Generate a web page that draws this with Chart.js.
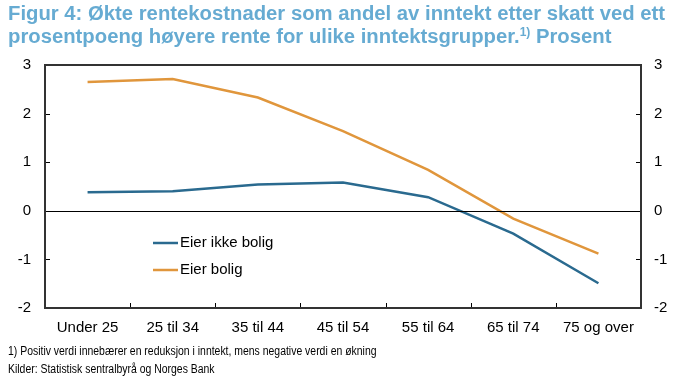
<!DOCTYPE html>
<html>
<head>
<meta charset="utf-8">
<script src="https://cdn.jsdelivr.net/npm/chart.js@4.4.1/dist/chart.umd.min.js"></script>
<style>
  html, body { margin: 0; padding: 0; background: #ffffff; }
  #wrap { position: relative; width: 687px; height: 383px; overflow: hidden; font-family: "Liberation Sans", Arial, sans-serif; }
  #title { position: absolute; left: 8px; top: 2px; color: #66abd2; font-weight: bold; font-size: 20.3px; line-height: 23px; white-space: nowrap; }
  #title sup { font-size: 12px; vertical-align: 0; position: relative; top: -7px; }
  .note { position: absolute; left: 8px; font-size: 12px; color: #000; white-space: nowrap; transform-origin: 0 0; transform: scaleX(0.87); }
  canvas { position: absolute; left: 0; top: 0; }
</style>
</head>
<body>
<div id="wrap">
  <canvas id="c" width="687" height="383"></canvas>
  <div id="title">Figur 4: Økte rentekostnader som andel av inntekt etter skatt ved ett<br>prosentpoeng høyere rente for ulike inntektsgrupper.<sup>1)</sup> Prosent</div>
  <div class="note" style="top:344px">1) Positiv verdi innebærer en reduksjon i inntekt, mens negative verdi en økning</div>
  <div class="note" style="top:362px">Kilder: Statistisk sentralbyrå og Norges Bank</div>
</div>
<script>
const categories = ["Under 25", "25 til 34", "35 til 44", "45 til 54", "55 til 64", "65 til 74", "75 og over"];
const eierIkkeBolig = [0.38, 0.40, 0.54, 0.58, 0.28, -0.47, -1.49];
const eierBolig = [2.65, 2.71, 2.33, 1.64, 0.84, -0.16, -0.88];
const seriesNames = ["Eier ikke bolig", "Eier bolig"];
const yMin = -2, yMax = 3, yStep = 1;

const BLUE = "#2a6a8f";
const ORANGE = "#e0963c";
const FONT = "'Liberation Sans', Arial, sans-serif";

const framePlugin = {
  id: "frame",
  afterDatasetsDraw(chart) {
    const ctx = chart.ctx;
    const a = chart.chartArea;
    const y = chart.scales.y;
    const x = chart.scales.x;
    ctx.save();
    ctx.strokeStyle = "#000";
    ctx.lineWidth = 1;
    const z = Math.round(y.getPixelForValue(0)) + 0.5;
    ctx.beginPath(); ctx.moveTo(a.left, z); ctx.lineTo(a.right, z); ctx.stroke();
    ctx.beginPath();
    for (let v = yMin + yStep; v < yMax; v += yStep) {
      const py = Math.round(y.getPixelForValue(v)) + 0.5;
      ctx.moveTo(a.left, py); ctx.lineTo(a.left + 5, py);
      ctx.moveTo(a.right, py); ctx.lineTo(a.right - 5, py);
    }
    for (let i = 1; i < categories.length; i++) {
      const px = Math.round((x.getPixelForValue(i - 1) + x.getPixelForValue(i)) / 2) + 0.5;
      ctx.moveTo(px, a.bottom); ctx.lineTo(px, a.bottom - 5);
    }
    ctx.stroke();
    ctx.lineWidth = 2;
    ctx.strokeStyle = "#333";
    ctx.strokeRect(a.left, a.top, a.right - a.left, a.bottom - a.top);
    const items = chart.data.datasets;
    ctx.font = "15px " + FONT;
    ctx.textBaseline = "middle";
    ctx.fillStyle = "#000";
    const lx = 153, ly0 = 243, gap = 27;
    items.forEach((ds, i) => {
      const ly = ly0 + i * gap;
      ctx.strokeStyle = ds.borderColor;
      ctx.lineWidth = 2.5;
      ctx.beginPath(); ctx.moveTo(lx, ly); ctx.lineTo(lx + 25, ly); ctx.stroke();
      ctx.fillText(ds.label, lx + 27, ly);
    });
    ctx.restore();
  }
};

new Chart(document.getElementById("c"), {
  type: "line",
  data: {
    labels: categories,
    datasets: [
      { label: seriesNames[0], data: eierIkkeBolig, borderColor: BLUE, borderWidth: 2.5, pointRadius: 0, tension: 0, fill: false },
      { label: seriesNames[1], data: eierBolig, borderColor: ORANGE, borderWidth: 2.5, pointRadius: 0, tension: 0, fill: false }
    ]
  },
  options: {
    responsive: false,
    animation: false,
    events: [],
    layout: { padding: { top: 65, left: 0, right: 0, bottom: 0 } },
    plugins: { legend: { display: false }, tooltip: { enabled: false }, title: { display: false } },
    scales: {
      x: {
        offset: true,
        grid: { display: false, drawTicks: false },
        border: { display: false },
        ticks: { color: "#000", font: { family: FONT, size: 15 }, padding: 11, maxRotation: 0, autoSkip: false },
        afterFit(s) { s.height = 75; }
      },
      y: {
        position: "left",
        min: yMin, max: yMax,
        grid: { display: false, drawTicks: false },
        border: { display: false },
        ticks: { stepSize: yStep, color: "#000", font: { family: FONT, size: 15 }, padding: 14 },
        afterFit(s) { s.width = 45; }
      },
      y2: {
        position: "right",
        min: yMin, max: yMax,
        grid: { display: false, drawTicks: false },
        border: { display: false },
        ticks: { stepSize: yStep, color: "#000", font: { family: FONT, size: 15 }, padding: 13 },
        afterFit(s) { s.width = 46; }
      }
    }
  },
  plugins: [framePlugin]
});
</script>
</body>
</html>
